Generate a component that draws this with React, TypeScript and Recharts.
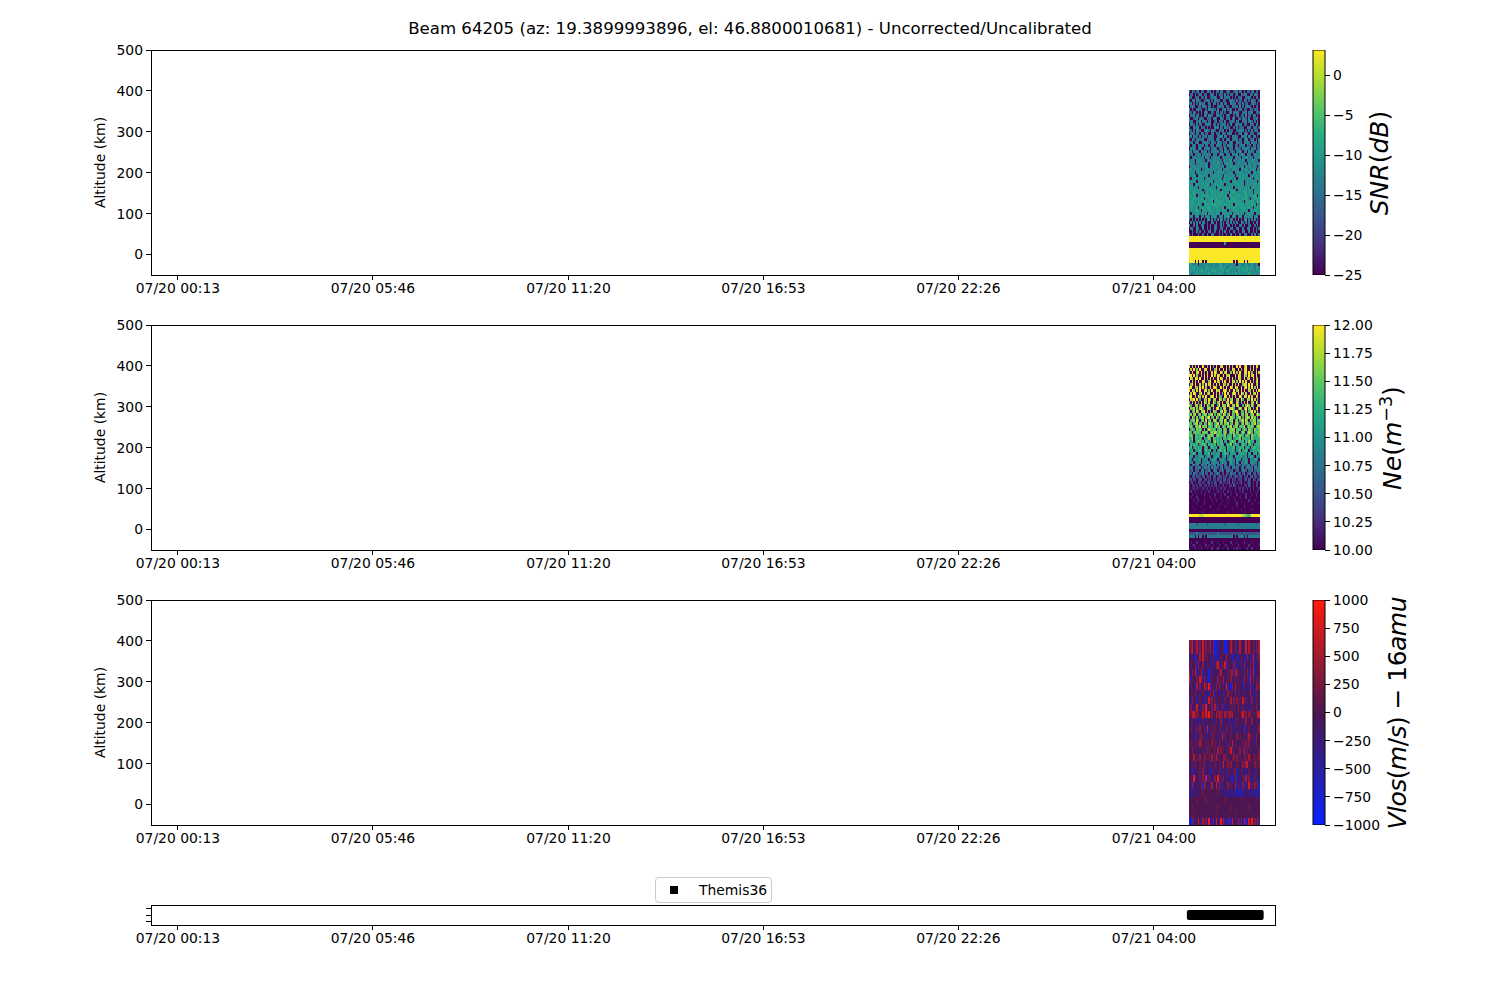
import {
  Bar,
  BarChart,
  Legend,
  ReferenceArea,
  Scatter,
  ScatterChart,
  XAxis,
  YAxis,
} from "recharts"

const FONT = "DejaVu Sans"

// time axis, minutes after 07/20 00:00
const timeDomain = [-33.1, 1886.7]
const timeTicks = [13, 346, 680, 1013, 1346, 1680]
const timeLabels = [
  "07/20 00:13",
  "07/20 05:46",
  "07/20 11:20",
  "07/20 16:53",
  "07/20 22:26",
  "07/21 04:00",
]
const altDomain = [-50, 500]
const altTicks = [0, 100, 200, 300, 400, 500]

const blockStart = 1739.8
const columnStep = 2.525
const blockBottom = -50
const blockTop = 402

// level digit -> value
const snrLevels = [-25, -21, -16, -14, -12, -10, -8.5, -7, -5, 3]
const neLevels = [10, 10.12, 10.3, 10.55, 10.85, 11.1, 11.35, 11.6, 11.8, 12]
const vlosLevels = [-900, -500, -300, -120, -10, 150, 350, 550, 750, 950]

// rows run top (402 km) to bottom (-50 km), columns run left to right
const snrRows = [
  "30420340 23004320 40230340 02340023 40320403 20340230",
  "02304023 40320034 20403230 40203402 30042340 03204320",
  "43003240 32040023 34200430 32340204 03240032 43020340",
  "20340432 00324302 04323004 20034320 40230430 20432003",
  "34020304 23400320 43020340 32004234 02304023 00342040",
  "02430023 04320340 20034324 03200432 30402034 32040230",
  "40300342 30020434 32040023 40323004 02340320 04203240",
  "32042030 40342003 20430340 20034032 43002340 32400323",
  "03240340 20340432 00342304 02430020 34032040 23043020",
  "40023403 42003240 34200432 03240340 02304320 40032430",
  "23400324 03420340 02403230 40023420 34003240 34203040",
  "04320403 20043430 23040324 30204003 42340230 04320340",
  "30042340 32403020 04340320 43240030 40232004 34023403",
  "42030432 00343204 32004234 03042300 32434020 30403240",
  "03420340 43023003 40324043 20343004 03240342 03240043",
  "34034204 03240343 20034530 43020434 30024340 43034020",
  "20430342 34003243 40342034 03430243 40320354 02340304",
  "43403420 03434204 32043403 24034300 43240434 30423403",
  "30342043 43034023 40344302 30434304 20343403 24043032",
  "04343034 20434403 34304230 43043403 43204344 30434023",
  "34043430 43340204 34340340 44303420 34430340 43340434",
  "43304344 03434340 43403443 04340434 40344304 34034434",
  "40344343 34044303 44344034 34434304 43404354 34304344",
  "34430454 43403443 54344304 44345034 34434404 43544340",
  "44340434 54344034 44354340 44534404 35443440 44354344",
  "04454344 34454044 34544344 04445354 44345044 45344304",
  "45344454 03445444 54344504 45443454 44054454 34454044",
  "44540454 44354454 04454445 34454404 54544344 54045445",
  "54454045 44544054 45454440 54454540 44545454 04454544",
  "40545445 45045454 54445404 54455445 04545445 45404554",
  "45454054 54454545 04545544 54540454 55454045 44554504",
  "54504554 45455404 55454554 05455454 54555045 45455445",
  "45545405 54555454 54055545 54554505 45554554 50554545",
  "55454554 50545565 45455054 55465454 05545554 55405545",
  "54565455 45055456 55454565 45505565 45455564 54505565",
  "65455054 55656545 55455654 55065545 56554565 45556505",
  "45565545 65054556 55655456 56505565 55456565 40556565",
  "56555465 55654556 05565655 45565556 56554056 55654565",
  "55654565 40565556 56556545 65565505 65565456 55665054",
  "65545505 56556654 55655465 05565565 54566555 65405565",
  "55455654 05554565 54555465 55054556 55455654 05545554",
  "40545554 45450545 54554054 54545054 55454045 54540545",
  "45404540 54045404 45405440 54540454 04540544 45404540",
  "30404030 40304504 03040540 30404304 04030450 30404030",
  "04030403 04403004 30400403 04304030 40043040 30040430",
  "40030400 34003040 03400403 00430304 00340400 34003040",
  "03400430 04003040 04300340 04003400 34004003 40040304",
  "00300403 00400340 03004030 40030040 03004300 40030400",
  "40300040 03004003 40004030 03004003 00400340 00304003",
  "99999999 99999999 99999999 99999999 99999999 99999999",
  "99999999 99999999 99999999 99999999 99999999 99999999",
  "00000000 00000000 00000000 50000000 00000000 00000000",
  "00000000 00000000 00000000 00000000 00000000 00000000",
  "99999999 99999999 99999999 99999999 99999999 99999999",
  "99999999 99999999 99999999 99999999 99999999 99999999",
  "99999999 99999999 99999999 99999999 99999999 99999999",
  "99999999 99999999 99999999 99999999 99999999 99999999",
  "99990909 90909999 99999999 99999909 09999090 99999999",
  "45434504 34545434 54345643 45434534 04543454 34543450",
  "54565454 54365454 54545645 54365454 56545456 54543654",
  "45454545 65454536 56454565 45654545 36545656 45454545",
  "54346545 45454654 45456545 36454546 54545445 65454354",
]

const neRows = [
  "90807090 09007090 60900890 07090800 90900790 06090980",
  "08090709 00890090 07908009 09060980 09070890 08090700",
  "70900890 90709008 09700960 89007090 70900890 90700908",
  "99090700 80909009 08097009 07890009 09800970 90890900",
  "08709809 00907090 80090970 08090906 09800907 80090780",
  "90808090 09800790 09087090 90090880 70908090 09070890",
  "07909008 07090890 70908009 70800908 09007980 90900780",
  "89008709 09070090 89700908 09009709 80090790 80907090",
  "90970809 00890709 00979008 97090090 78090900 87090809",
  "08098007 90907800 90809070 90800798 09097080 09078090",
  "79008097 08090079 80907600 98090708 00970980 90800970",
  "08790906 00870960 78009708 60907800 78096008 70908070",
  "70809070 80970800 96078090 07809700 86070809 00780960",
  "86007806 90708607 80069078 70960780 87006079 70860078",
  "07680708 96007860 70890607 80078960 06870790 78060890",
  "80670860 78907060 87600790 86070678 90076080 67908070",
  "67078067 06870678 06078609 70680760 87067078 06780697",
  "70860706 78067906 70860786 06708760 67806078 70867060",
  "06770860 67080670 78606770 86067806 70678086 07687067",
  "76067806 70760876 06780760 76806708 76067078 60768076",
  "67606768 07670676 06867067 60768067 70676806 76760678",
  "06760767 60706876 76067606 76067870 67606760 77607667",
  "76067676 07676067 68767606 76067670 76067606 87606767",
  "67606656 76606767 60676656 70666076 56766067 60766567",
  "56706656 60656760 76565606 65676056 66706565 60765656",
  "65605676 56066560 67565660 56056766 05656065 76560656",
  "06565605 66750656 56065665 05657056 56056650 66505656",
  "56056565 60565056 55605656 50655660 55656056 50566565",
  "55605556 50565560 55056655 60555650 55605565 05565556",
  "05565055 50555605 54555055 65505555 04565550 55055605",
  "45505445 55045540 45554054 50455405 54554450 45540454",
  "54045455 04544054 55404545 40455440 54504454 05445540",
  "44504454 04445404 54440454 44045440 54044454 04544404",
  "40443440 44340443 44044340 43044440 34404434 40443404",
  "44304344 03443404 34430440 34340443 43044034 44304434",
  "33403340 44033430 34403343 04433403 34034430 33403344",
  "33043303 34033043 03343033 03304334 03303403 34033033",
  "30330332 03303230 33023303 23033023 30330323 03303302",
  "23032023 30230230 32032203 30230322 03230230 32032023",
  "02302032 02202302 03202302 20230320 20230202 32020230",
  "20220202 30220202 02302022 02022032 02020220 32020220",
  "20120201 02012020 20210201 20020102 01202012 02020102",
  "02002010 20010200 10020102 00201002 00102001 02001020",
  "00200100 10200010 02000100 20001000 20010020 00100200",
  "01000200 00100020 01000100 00200010 00100020 01000100",
  "00010020 00100001 00200010 00010002 00010000 20001000",
  "10000100 00200000 10000100 00100000 20000100 00100001",
  "00100000 10000020 00001000 10000000 10000200 00010000",
  "00001000 00100000 00010000 00000100 00010000 00100000",
  "00000000 01000000 10000000 00100000 00000100 00000000",
  "99999998 88999999 99999999 99999999 99988776 67999999",
  "00000000 00000000 00000000 00000000 00000000 00000000",
  "00000000 00000000 00000000 00000000 00000000 00000000",
  "44444344 44443444 44444444 34444444 43444444 44444344",
  "44444444 44444444 44444444 44444444 44444444 44444444",
  "00000000 00000000 00000000 00000000 00000000 00000000",
  "33333433 33333333 33343333 33333333 33333433 33333333",
  "44440404 40404444 44444444 44444404 04444040 44444444",
  "00000000 00000000 00000000 00000000 00000000 00000000",
  "01000200 00100002 00010001 00002000 10000200 00100010",
  "00120001 00020100 10002000 12000100 02000100 20010001",
  "10002010 20001002 00120001 00200010 20100012 00200100",
]

const vlosRows = [
  "56825716 48263572 60112345 00247536 25734282 75463627",
  "56825716 48263572 60112345 00247536 25734282 75463627",
  "14230257 48155432 51023532 47352024 11354026 33184126",
  "25346172 46325421 43685264 80534262 14252623 46271345",
  "72638125 71324052 43246743 24536718 64324536 27182434",
  "91543628 72614053 44163527 34526425 53432745 18263525",
  "35231726 14862905 24637425 39140647 35431524 26134726",
  "43546235 25314264 71540425 24635426 45234532 47231553",
  "52634135 42514826 35245342 53427263 62548352 32642544",
  "26135842 26391426 27154262 23245253 46325143 21534623",
  "65785654 57586946 44758653 76586745 35468564 66453578",
  "42534231 45223453 32542631 34252314 53423563 42634523",
  "35241526 34518245 25342531 46235241 25342613 52442436",
  "44325235 73531425 64425381 52435442 63543245 73542644",
  "55434527 64253546 35246453 25364825 34425364 64253544",
  "53635424 43526534 55274635 42558253 44635726 35443425",
  "64573526 53654527 45825436 64524563 62534654 75455356",
  "33526435 45624352 45345258 45646342 55436278 45346545",
  "42512435 36144231 53246253 21543256 14253413 52342534",
  "15391425 26180514 26392516 35241026 14235172 63215124",
  "52714352 61834257 24826153 42615237 25126314 82536261",
  "12233324 55444454 44354333 22222321 11111233 21321211",
  "44444544 44454444 44444444 54444444 44454444 44444544",
  "44544444 44444454 44454444 44445444 44444444 54444444",
  "44454444 54444444 44544444 44444445 44454444 44444454",
  "20615483 17261940 63824917 25061842 37163802 84926173",
]

const themisMarks = [
  1743, 1745.5, 1748, 1750.5, 1753, 1755.5, 1758, 1760.5, 1763, 1765.5, 1768,
  1770.5, 1773, 1775.5, 1778, 1780.5, 1783, 1785.5, 1788, 1790.5, 1793, 1795.5,
  1798, 1800.5, 1803, 1805.5, 1808, 1810.5, 1813, 1815.5, 1818, 1820.5, 1823,
  1825.5, 1828, 1830.5, 1833, 1835.5, 1838, 1840.5, 1843, 1845.5, 1848, 1850.5,
  1853, 1855.5, 1858, 1860.5,
]

const snrTicks = [-25, -20, -15, -10, -5, 0]
const neTicks = [10, 10.25, 10.5, 10.75, 11, 11.25, 11.5, 11.75, 12]
const vlosTicks = [-1000, -750, -500, -250, 0, 250, 500, 750, 1000]

const viridis = [
  "#440154",
  "#472d7b",
  "#3b528b",
  "#2c728e",
  "#21918c",
  "#28ae80",
  "#5ec962",
  "#addc30",
  "#fde725",
]
const blueRed = ["#0a22ff", "#2a1fa0", "#4c1650", "#a01a30", "#ff1a0a"]

const PLOT_W = 1124
const PLOT_H = 225

function hexToRgb(hex: string) {
  return [1, 3, 5].map((i) => parseInt(hex.slice(i, i + 2), 16))
}

function ramp(stops: string[], t: number) {
  const p = Math.max(0, Math.min(1, t)) * (stops.length - 1)
  const i = Math.min(Math.floor(p), stops.length - 2)
  const a = hexToRgb(stops[i])
  const b = hexToRgb(stops[i + 1])
  const c = a.map((v, k) => Math.round(v + (b[k] - v) * (p - i)))
  return `rgb(${c[0]},${c[1]},${c[2]})`
}

function buildCells(rows: string[], levels: number[]) {
  const step = (blockTop - blockBottom) / rows.length
  const cells: { x: number; y: number; v: number }[] = []
  rows.forEach((row, r) => {
    const digits = row.replace(/ /g, "")
    for (let c = 0; c < digits.length; c++) {
      cells.push({
        x: blockStart + (c + 0.5) * columnStep,
        y: blockTop - (r + 0.5) * step,
        v: levels[Number(digits[c])],
      })
    }
  })
  return cells
}

const tickStyle = { fontSize: 13.9, fontFamily: FONT, fill: "#000" }
const crisp = { stroke: "#000", shapeRendering: "crispEdges" }
const minus = (v: number | string) => String(v).replace("-", "\u2212")

function timeLabel(v: number) {
  return timeLabels[timeTicks.indexOf(v)] ?? ""
}

function HeatPanel({
  top,
  rows,
  levels,
  stops,
  range,
}: {
  top: number
  rows: string[]
  levels: number[]
  stops: string[]
  range: number[]
}) {
  const cells = buildCells(rows, levels)
  const cellW = (PLOT_W / (timeDomain[1] - timeDomain[0])) * columnStep
  const cellH =
    (PLOT_H / (altDomain[1] - altDomain[0])) *
    ((blockTop - blockBottom) / rows.length)

  const drawCell = (p: any) => (
    <rect
      x={p.cx - cellW / 2}
      y={p.cy - cellH / 2}
      width={cellW + 0.4}
      height={cellH + 0.4}
      shapeRendering="crispEdges"
      fill={ramp(stops, (p.payload.v - range[0]) / (range[1] - range[0]))}
    />
  )

  return (
    <div style={{ position: "absolute", left: 0, top: top - 10 }}>
      <ScatterChart
        width={1300}
        height={270}
        margin={{ top: 10, right: 25, bottom: 0, left: 91 }}
      >
        <XAxis
          type="number"
          dataKey="x"
          domain={timeDomain}
          ticks={timeTicks}
          interval={0}
          tickFormatter={timeLabel}
          tick={tickStyle}
          tickSize={5}
          tickMargin={3}
          axisLine={crisp}
          tickLine={crisp}
          height={35}
          allowDataOverflow
        />
        <YAxis
          type="number"
          dataKey="y"
          domain={altDomain}
          ticks={altTicks}
          interval={0}
          tick={tickStyle}
          tickSize={5}
          tickMargin={3}
          axisLine={crisp}
          tickLine={crisp}
          width={60}
          allowDataOverflow
          label={{
            value: "Altitude (km)",
            angle: -90,
            position: "insideLeft",
            offset: 9,
            style: { textAnchor: "middle", ...tickStyle },
          }}
        />
        <Scatter data={cells} shape={drawCell} isAnimationActive={false} />
        <ReferenceArea
          x1={timeDomain[0]}
          x2={timeDomain[1]}
          y1={altDomain[0]}
          y2={altDomain[1]}
          fill="none"
          stroke="#000"
          strokeOpacity={1}
          strokeWidth={1}
          shapeRendering="crispEdges"
        />
      </ScatterChart>
    </div>
  )
}

function ColorBar({
  id,
  top,
  stops,
  range,
  ticks,
  format,
}: {
  id: string
  top: number
  stops: string[]
  range: number[]
  ticks: number[]
  format: (v: number) => string
}) {
  return (
    <div style={{ position: "absolute", left: 1303, top: top - 10 }}>
      <BarChart
        width={110}
        height={245}
        data={[{ name: id, span: range }]}
        barCategoryGap={0}
        margin={{ top: 10, right: 0, bottom: 10, left: 10 }}
      >
        <defs>
          <linearGradient id={id} x1="0" y1="1" x2="0" y2="0">
            {stops.map((c, i) => (
              <stop key={c} offset={i / (stops.length - 1)} stopColor={c} />
            ))}
          </linearGradient>
        </defs>
        <XAxis dataKey="name" hide />
        <YAxis
          orientation="right"
          domain={range}
          ticks={ticks}
          interval={0}
          tickFormatter={format}
          tick={tickStyle}
          tickSize={5}
          tickMargin={3}
          tickLine={crisp}
          axisLine={false}
          width={88}
          allowDataOverflow
        />
        <Bar
          dataKey="span"
          fill={`url(#${id})`}
          stroke="#000"
          strokeWidth={1}
          isAnimationActive={false}
        />
      </BarChart>
    </div>
  )
}

function ThemisLegend() {
  return (
    <div
      style={{
        boxSizing: "border-box",
        width: 117,
        height: 26,
        background: "#fff",
        border: "1px solid #ccc",
        borderRadius: 4,
        display: "flex",
        alignItems: "center",
        fontFamily: FONT,
        fontSize: 13.9,
        color: "#000",
      }}
    >
      <span
        style={{
          width: 8,
          height: 8,
          marginLeft: 14,
          marginRight: 21,
          background: "#000",
        }}
      />
      Themis36
    </div>
  )
}

function TrackPanel() {
  const marks = themisMarks.map((x) => ({ x, y: 1 }))
  const drawMark = (p: any) => (
    <rect x={p.cx - 4} y={p.cy - 5} width={8} height={10} rx={2} fill="#000" />
  )
  return (
    <div style={{ position: "absolute", left: 0, top: 870 }}>
      <ScatterChart
        width={1300}
        height={90}
        margin={{ top: 35, right: 25, bottom: 0, left: 91 }}
      >
        <XAxis
          type="number"
          dataKey="x"
          domain={timeDomain}
          ticks={timeTicks}
          interval={0}
          tickFormatter={timeLabel}
          tick={tickStyle}
          tickSize={5}
          tickMargin={3}
          axisLine={crisp}
          tickLine={crisp}
          height={35}
          allowDataOverflow
        />
        <YAxis
          type="number"
          dataKey="y"
          domain={[-0.43, 2.43]}
          ticks={[0, 1, 2]}
          interval={0}
          tickFormatter={() => ""}
          tickSize={5}
          axisLine={crisp}
          tickLine={crisp}
          width={60}
          allowDataOverflow
        />
        <Legend
          layout="vertical"
          align="center"
          verticalAlign="middle"
          wrapperStyle={{ left: 655, top: 7, width: 117 }}
          content={() => <ThemisLegend />}
        />
        <Scatter
          name="Themis36"
          data={marks}
          shape={drawMark}
          isAnimationActive={false}
        />
        <ReferenceArea
          x1={timeDomain[0]}
          x2={timeDomain[1]}
          y1={-0.43}
          y2={2.43}
          fill="none"
          stroke="#000"
          strokeOpacity={1}
          strokeWidth={1}
          shapeRendering="crispEdges"
        />
      </ScatterChart>
    </div>
  )
}

function CbarLabel({ x, y, length, children }: any) {
  return (
    <text
      transform={`translate(${x},${y}) rotate(-90)`}
      textAnchor="middle"
      fontFamily={FONT}
      fontSize={25}
      fill="#000"
      textLength={length}
    >
      {children}
    </text>
  )
}

export default function App() {
  const it = { fontStyle: "italic" as const }
  return (
    <div
      style={{
        position: "absolute",
        left: 0,
        top: 0,
        width: 1500,
        height: 1000,
        background: "#fff",
      }}
    >
      <HeatPanel top={50} rows={snrRows} levels={snrLevels} stops={viridis} range={[-25, 3.14]} />
      <HeatPanel top={325} rows={neRows} levels={neLevels} stops={viridis} range={[10, 12]} />
      <HeatPanel top={600} rows={vlosRows} levels={vlosLevels} stops={blueRed} range={[-1000, 1000]} />
      <TrackPanel />

      <ColorBar id="cbSnr" top={50} stops={viridis} range={[-25, 3.14]} ticks={snrTicks} format={minus} />
      <ColorBar id="cbNe" top={325} stops={viridis} range={[10, 12]} ticks={neTicks} format={(v) => v.toFixed(2)} />
      <ColorBar id="cbVlos" top={600} stops={blueRed} range={[-1000, 1000]} ticks={vlosTicks} format={minus} />

      <svg
        width={1500}
        height={1000}
        style={{ position: "absolute", left: 0, top: 0, pointerEvents: "none" }}
      >
        <text x={750} y={34} textAnchor="middle" fontFamily={FONT} fontSize={16.6} fill="#000">
          Beam 64205 (az: 19.3899993896, el: 46.8800010681) - Uncorrected/Uncalibrated
        </text>
        <CbarLabel x={1388} y={163}>
          <tspan {...it}>SNR</tspan>(<tspan {...it}>dB</tspan>)
        </CbarLabel>
        <CbarLabel x={1401} y={438}>
          <tspan {...it}>Ne</tspan>(<tspan {...it}>m</tspan>
          <tspan dy={-9} fontSize={17.5}>−3</tspan>
          <tspan dy={9}>)</tspan>
        </CbarLabel>
        <CbarLabel x={1406} y={713} length={233}>
          <tspan {...it}>Vlos</tspan>(<tspan {...it}>m</tspan>/<tspan {...it}>s</tspan>) − 16<tspan {...it}>amu</tspan>
        </CbarLabel>
      </svg>
    </div>
  )
}
